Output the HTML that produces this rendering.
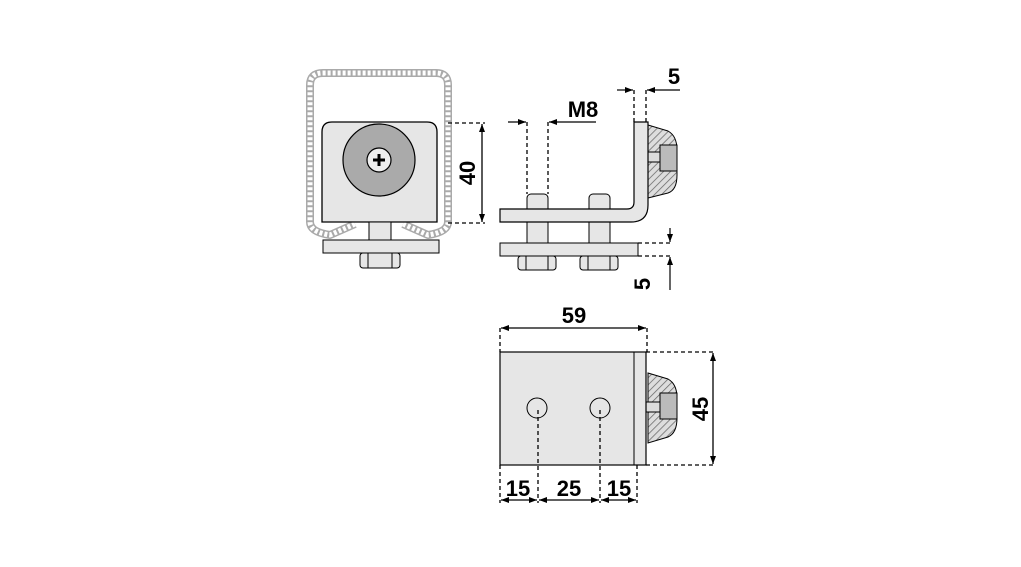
<!DOCTYPE html>
<html><head><style>html,body{margin:0;padding:0;background:#fff}svg{display:block}</style></head><body>
<svg width="1021" height="567" viewBox="0 0 1021 567" xmlns="http://www.w3.org/2000/svg">
<defs>
<pattern id="h" width="5" height="5" patternUnits="userSpaceOnUse" patternTransform="rotate(45)"><rect width="5" height="5" fill="#ddd"/><line x1="0" y1="0" x2="0" y2="5" stroke="#666" stroke-width="1.5"/></pattern>
<marker id="a" markerWidth="8" markerHeight="8" refX="8" refY="4" orient="auto-start-reverse" markerUnits="userSpaceOnUse"><path d="M0,1 L8,4 L0,7 z" fill="#000"/></marker>
</defs>
<g font-family="Liberation Sans, sans-serif" font-weight="bold" font-size="22" fill="#000">
<!-- LEFT VIEW -->
<path d="M355,224 L330,235 Q310,232 310,222 L310,85 Q310,73 323,73 L436,73 Q448,73 448,85 L448,222 Q448,232 428,235 L403,224" fill="none" stroke="#aaa" stroke-width="8" stroke-linejoin="round"/>
<path d="M355,224 L330,235 Q310,232 310,222 L310,85 Q310,73 323,73 L436,73 Q448,73 448,85 L448,222 Q448,232 428,235 L403,224" fill="none" stroke="#fff" stroke-width="5" stroke-dasharray="3 2" stroke-linejoin="round"/>
<path d="M322,222 L322,132 Q322,122 332,122 L427,122 Q437,122 437,132 L437,222 Z" fill="#e6e6e6" stroke="#000" stroke-width="1.3"/>
<circle cx="379" cy="160" r="36" fill="#aaa" stroke="#000" stroke-width="1.2"/>
<circle cx="379" cy="160" r="12" fill="#eee" stroke="#000" stroke-width="1.2"/>
<path d="M373,160 H385 M379,154 V166" stroke="#000" stroke-width="3"/>
<rect x="369" y="222" width="22" height="18" fill="#e6e6e6" stroke="#000"/>
<rect x="323" y="240" width="116" height="13" fill="#e6e6e6" stroke="#000"/>
<rect x="360" y="253" width="40" height="15" rx="3" fill="#e6e6e6" stroke="#000"/>
<path d="M368,253 V268 M392,253 V268" stroke="#000"/>
<path d="M448,123 H485 M448,223 H485" stroke="#000" stroke-width="1.3" stroke-dasharray="4 3"/>
<line x1="482" y1="124" x2="482" y2="222" stroke="#000" stroke-width="1.3" marker-start="url(#a)" marker-end="url(#a)"/>
<text transform="translate(475,173) rotate(-90)" text-anchor="middle">40</text>
<!-- MIDDLE VIEW -->
<path d="M648,125 L668,131 Q677,136 677,150 L677,175 Q677,190 668,193 L648,198 Z" fill="url(#h)" stroke="#000"/>
<rect x="660" y="145" width="17" height="26" fill="#bbb" stroke="#000"/>
<rect x="636" y="152" width="24" height="10" fill="#ddd" stroke="#000"/>
<rect x="527" y="194" width="21" height="60" rx="4" fill="#e6e6e6" stroke="#000"/>
<rect x="589" y="194" width="21" height="60" rx="4" fill="#e6e6e6" stroke="#000"/>
<path d="M500,209 L627,209 Q634,209 634,202 L634,122 L648,122 L648,205 Q648,222 631,222 L500,222 Z" fill="#e6e6e6" stroke="#000" stroke-width="1.2"/>
<rect x="500" y="243" width="138" height="13" fill="#e6e6e6" stroke="#000"/>
<rect x="518" y="256" width="38" height="14" rx="3" fill="#e6e6e6" stroke="#000"/>
<rect x="580" y="256" width="38" height="14" rx="3" fill="#e6e6e6" stroke="#000"/>
<path d="M526,256 V270 M548,256 V270 M588,256 V270 M610,256 V270" stroke="#000"/>
<path d="M527,122 V194 M548,122 V194 M634,90 V122 M646,90 V122 M638,243 H672 M638,256 H672" stroke="#000" stroke-width="1.3" stroke-dasharray="4 3"/>
<line x1="508" y1="122" x2="526" y2="122" stroke="#000" stroke-width="1.2" marker-end="url(#a)"/>
<line x1="596" y1="122" x2="549" y2="122" stroke="#000" stroke-width="1.2" marker-end="url(#a)"/>
<line x1="617" y1="90" x2="633" y2="90" stroke="#000" stroke-width="1.2" marker-end="url(#a)"/>
<line x1="680" y1="90" x2="647" y2="90" stroke="#000" stroke-width="1.2" marker-end="url(#a)"/>
<line x1="670" y1="228" x2="670" y2="242" stroke="#000" stroke-width="1.2" marker-end="url(#a)"/>
<line x1="670" y1="290" x2="670" y2="257" stroke="#000" stroke-width="1.2" marker-end="url(#a)"/>
<text x="583" y="117" text-anchor="middle">M8</text>
<text x="674" y="84" text-anchor="middle">5</text>
<text transform="translate(650,284) rotate(-90)" text-anchor="middle">5</text>
<!-- BOTTOM VIEW -->
<path d="M648,373 L668,379 Q677,384 677,398 L677,418 Q677,433 668,437 L648,443 Z" fill="url(#h)" stroke="#000"/>
<rect x="660" y="393" width="17" height="26" fill="#bbb" stroke="#000"/>
<rect x="636" y="402" width="24" height="10" fill="#ddd" stroke="#000"/>
<rect x="500" y="352" width="146" height="113" fill="#e6e6e6" stroke="#000" stroke-width="1.2"/>
<line x1="634" y1="352" x2="634" y2="465" stroke="#000"/>
<circle cx="537" cy="408" r="10" fill="#e6e6e6" stroke="#000"/>
<circle cx="600" cy="408" r="10" fill="#e6e6e6" stroke="#000"/>
<path d="M500,328 V352 M647,328 V352 M646,352 H716 M646,465 H716 M500,465 V503 M538,410 V503 M600,410 V503 M637,465 V503" stroke="#000" stroke-width="1.3" stroke-dasharray="4 3"/>
<line x1="501" y1="328" x2="646" y2="328" stroke="#000" stroke-width="1.3" marker-start="url(#a)" marker-end="url(#a)"/>
<line x1="713" y1="353" x2="713" y2="464" stroke="#000" stroke-width="1.3" marker-start="url(#a)" marker-end="url(#a)"/>
<line x1="501" y1="500" x2="537" y2="500" stroke="#000" stroke-width="1.3" marker-start="url(#a)" marker-end="url(#a)"/>
<line x1="539" y1="500" x2="599" y2="500" stroke="#000" stroke-width="1.3" marker-start="url(#a)" marker-end="url(#a)"/>
<line x1="601" y1="500" x2="636" y2="500" stroke="#000" stroke-width="1.3" marker-start="url(#a)" marker-end="url(#a)"/>
<text x="574" y="323" text-anchor="middle">59</text>
<text transform="translate(708,409) rotate(-90)" text-anchor="middle">45</text>
<text x="518" y="496" text-anchor="middle">15</text>
<text x="569" y="496" text-anchor="middle">25</text>
<text x="619" y="496" text-anchor="middle">15</text>
</g>
</svg>
</body></html>
